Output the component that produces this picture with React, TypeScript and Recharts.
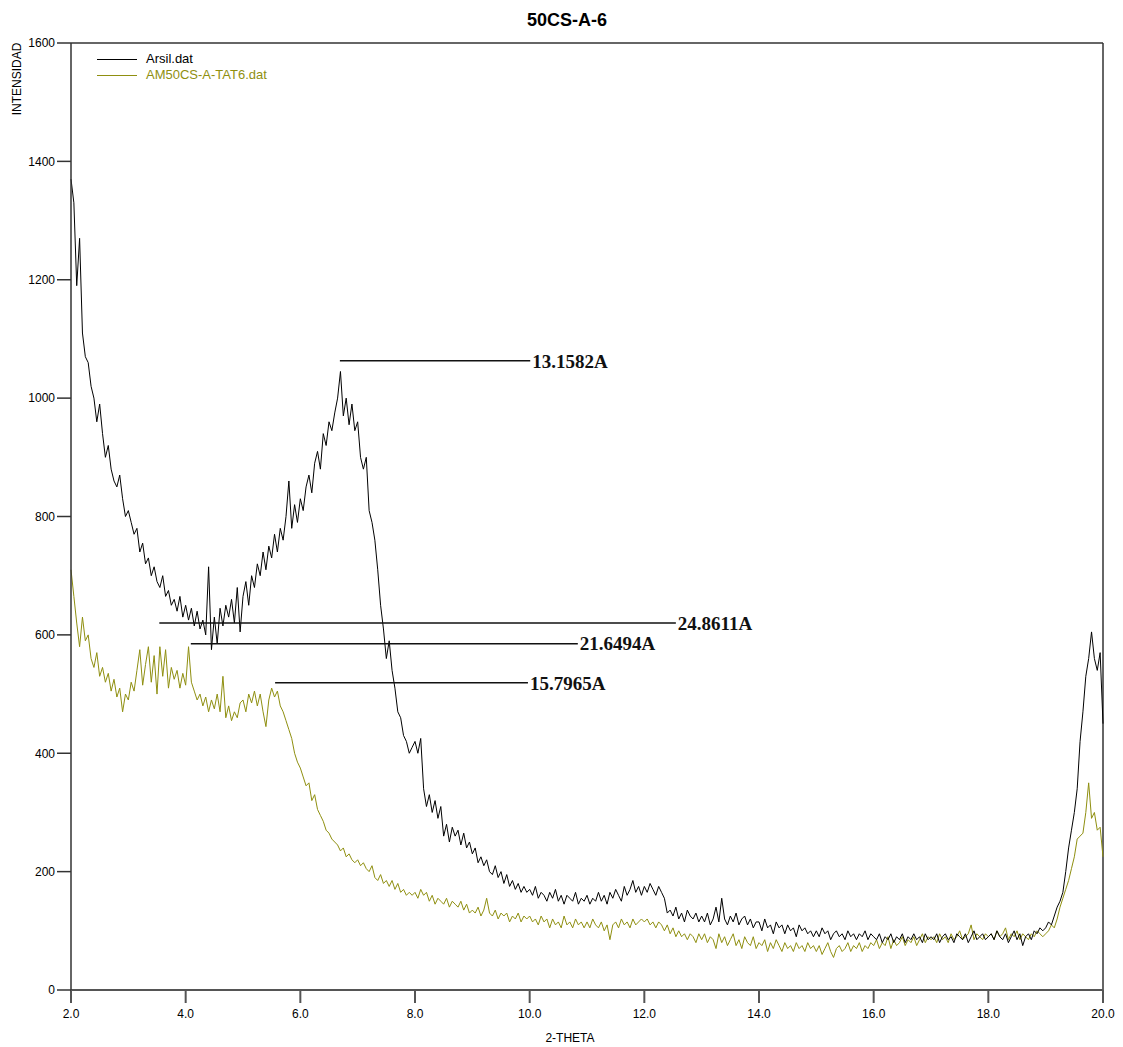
import { LineChart, Line, XAxis, YAxis, ReferenceLine } from "recharts";

// 2-theta sampling grid of the diffractometer scan
const THETA_START = 2.0;
const THETA_STEP = 0.05;

// Arsil.dat intensities, one row per degree (2.00 .. 2.95, 3.00 .. 3.95, ...)
const arsil = [
  1370, 1330, 1190, 1270, 1110, 1070, 1060, 1020, 1000, 960, 990, 940, 900, 920, 880, 860, 850, 870, 830, 800,
  810, 790, 770, 780, 740, 755, 720, 730, 700, 715, 690, 680, 700, 665, 675, 650, 660, 640, 665, 630,
  650, 625, 645, 615, 640, 610, 625, 600, 715, 575, 630, 585, 645, 615, 650, 630, 660, 620, 680, 605,
  665, 690, 650, 700, 680, 720, 700, 740, 710, 750, 730, 770, 740, 780, 760, 800, 860, 780, 820, 790,
  830, 810, 850, 870, 840, 890, 910, 880, 940, 920, 960, 945, 975, 1000, 1045, 970, 1000, 955, 990, 945,
  960, 900, 880, 900, 810, 790, 760, 710, 650, 610, 560, 590, 540, 510, 470, 460, 430, 420, 400, 410,
  420, 400, 425, 340, 310, 330, 300, 320, 290, 310, 260, 280, 250, 275, 260, 270, 245, 265, 240, 250,
  230, 240, 215, 225, 210, 220, 200, 195, 210, 190, 200, 180, 195, 175, 185, 170, 180, 165, 175, 165,
  170, 160, 175, 155, 165, 160, 150, 165, 155, 170, 150, 160, 145, 160, 155, 150, 165, 145, 155, 150,
  160, 145, 155, 150, 165, 150, 160, 145, 165, 155, 170, 160, 150, 175, 160, 170, 185, 165, 175, 160,
  175, 165, 180, 170, 160, 175, 165, 155, 130, 135, 125, 140, 120, 130, 115, 135, 125, 120, 130, 115,
  125, 115, 130, 110, 120, 140, 115, 155, 120, 110, 125, 115, 130, 110, 120, 125, 110, 120, 105, 115,
  115, 100, 120, 105, 110, 95, 115, 105, 110, 95, 110, 100, 105, 90, 110, 100, 105, 95, 100, 90,
  100, 90, 105, 95, 100, 85, 95, 100, 90, 95, 85, 100, 90, 95, 85, 95, 90, 100, 85, 95,
  90, 85, 95, 80, 90, 85, 95, 80, 90, 85, 95, 80, 90, 85, 95, 85, 90, 80, 95, 85,
  90, 85, 95, 80, 90, 95, 85, 90, 80, 95, 90, 85, 95, 80, 90, 100, 85, 90, 95, 85,
  90, 95, 85, 100, 90, 85, 95, 80, 90, 100, 85, 95, 75, 90, 95, 85, 100, 95, 105, 100,
  105, 115, 110, 125, 140, 150, 165, 200, 240, 270, 300, 340, 420, 470, 530, 560, 605, 560, 540, 570,
  450,
];

// AM50CS-A-TAT6.dat intensities, same grid
const am50 = [
  710, 665, 620, 580, 630, 590, 600, 560, 545, 570, 530, 545, 520, 535, 505, 525, 495, 510, 470, 500,
  490, 520, 505, 540, 575, 515, 550, 580, 520, 565, 500, 580, 530, 575, 510, 545, 525, 540, 510, 535,
  515, 580, 520, 505, 490, 500, 480, 495, 470, 490, 475, 500, 470, 530, 460, 480, 455, 470, 460, 485,
  490, 470, 500, 485, 505, 480, 500, 470, 445, 490, 510, 495, 505, 480, 470, 455, 440, 425, 400, 385,
  375, 360, 345, 350, 320, 330, 305, 295, 285, 270, 265, 255, 250, 245, 235, 240, 225, 230, 220, 215,
  220, 210, 215, 205, 200, 210, 190, 185, 195, 180, 185, 175, 185, 170, 180, 165, 170, 160, 165, 160,
  165, 155, 170, 160, 165, 150, 160, 145, 155, 150, 145, 155, 140, 150, 145, 140, 150, 135, 145, 130,
  135, 130, 140, 125, 135, 155, 130, 125, 135, 120, 130, 125, 130, 115, 125, 120, 130, 115, 125, 120,
  125, 115, 120, 110, 125, 115, 120, 105, 120, 110, 115, 105, 125, 110, 115, 105, 120, 110, 115, 105,
  115, 105, 120, 110, 105, 115, 100, 110, 85, 110, 115, 105, 120, 110, 115, 105, 120, 110, 115, 120,
  115, 120, 110, 115, 105, 115, 110, 100, 110, 95, 105, 90, 100, 90, 95, 85, 95, 90, 80, 95,
  85, 95, 80, 90, 85, 70, 95, 80, 90, 75, 85, 95, 75, 85, 70, 90, 80, 75, 90, 70,
  80, 75, 85, 65, 80, 70, 85, 75, 65, 80, 70, 75, 65, 80, 70, 75, 65, 80, 70, 75,
  65, 75, 60, 70, 80, 65, 55, 70, 75, 65, 70, 80, 65, 75, 70, 80, 65, 75, 70, 80,
  75, 85, 70, 80, 75, 90, 70, 85, 75, 80, 90, 75, 85, 80, 90, 75, 85, 95, 80, 90,
  85, 90, 80, 95, 85, 90, 80, 95, 85, 90, 100, 85, 90, 95, 110, 85, 95, 90, 85, 95,
  90, 95, 85, 100, 90, 95, 105, 85, 95, 90, 100, 85, 95, 90, 85, 95, 90, 100, 95, 90,
  95, 100, 110, 105, 120, 140, 155, 170, 185, 205, 225, 255, 260, 265, 300, 350, 290, 300, 270, 275,
  225,
];

const xTicks = [2, 4, 6, 8, 10, 12, 14, 16, 18, 20];
const yTicks = [0, 200, 400, 600, 800, 1000, 1200, 1400, 1600];

// d-spacing markers: label, intensity level, start and end 2-theta
const peakLabels = ["13.1582A", "24.8611A", "21.6494A", "15.7965A"];
const peakLevels = [1063, 620, 585, 519];
const peakFrom = [6.69, 3.54, 4.09, 5.56];
const peakTo = [10.01, 12.55, 10.84, 9.97];

const data = arsil.map((v, i) => ({
  theta: +(THETA_START + i * THETA_STEP).toFixed(2),
  arsil: v,
  am50: am50[i],
}));

const OLIVE = "#8f8f10";
const SANS = "'Liberation Sans', Arial, sans-serif";

export default function App() {
  return (
    <div style={{ position: "relative", width: 1110, height: 1039, fontFamily: SANS }}>
      <div
        style={{
          position: "absolute",
          left: 559,
          top: 3,
          transform: "translateX(-50%)",
          fontSize: 18,
          lineHeight: "18px",
          fontWeight: "bold",
          whiteSpace: "nowrap",
        }}
      >
        50CS-A-6
      </div>
      <div
        style={{
          position: "absolute",
          left: 9,
          top: 71,
          transform: "translate(-50%, -50%) rotate(-90deg)",
          fontSize: 12,
          whiteSpace: "nowrap",
        }}
      >
        INTENSIDAD
      </div>
      <div
        style={{
          position: "absolute",
          left: 562,
          top: 1023,
          transform: "translateX(-50%)",
          fontSize: 12,
          lineHeight: "14px",
          whiteSpace: "nowrap",
        }}
      >
        2-THETA
      </div>
      <div style={{ position: "absolute", left: 89, top: 43, fontSize: 13, lineHeight: "16px", zIndex: 2 }}>
        <div style={{ display: "flex", alignItems: "center" }}>
          <span style={{ display: "inline-block", width: 40, borderTop: "1px solid #000", marginRight: 9 }} />
          <span style={{ color: "#000" }}>Arsil.dat</span>
        </div>
        <div style={{ display: "flex", alignItems: "center" }}>
          <span style={{ display: "inline-block", width: 40, borderTop: `1px solid ${OLIVE}`, marginRight: 9 }} />
          <span style={{ color: OLIVE }}>AM50CS-A-TAT6.dat</span>
        </div>
      </div>

      <LineChart width={1110} height={1039} data={data} margin={{ top: 35, right: 15, left: 0, bottom: 17 }}>
        <XAxis
          dataKey="theta"
          type="number"
          domain={[2, 20]}
          ticks={xTicks}
          tickFormatter={(v: number) => v.toFixed(1)}
          height={40}
          tickSize={13}
          tickMargin={6}
          stroke="#555"
          strokeWidth={2}
          tick={{ fill: "#000", fontSize: 12, fontFamily: SANS }}
        />
        <YAxis
          type="number"
          domain={[0, 1600]}
          ticks={yTicks}
          width={63}
          tickSize={14}
          tickMargin={2}
          stroke="#333"
          strokeWidth={1.5}
          tick={{ fill: "#000", fontSize: 12, fontFamily: SANS }}
        />
        <ReferenceLine y={1600} stroke="#333" strokeWidth={1.5} />
        <ReferenceLine x={20} stroke="#333" strokeWidth={1.5} />
        <Line
          type="linear"
          dataKey="am50"
          stroke={OLIVE}
          strokeWidth={1}
          dot={false}
          isAnimationActive={false}
        />
        <Line
          type="linear"
          dataKey="arsil"
          stroke="#000"
          strokeWidth={1}
          dot={false}
          isAnimationActive={false}
        />
        {peakLabels.map((lab, i) => (
          <ReferenceLine
            key={lab}
            segment={[
              { x: peakFrom[i], y: peakLevels[i] },
              { x: peakTo[i], y: peakLevels[i] },
            ]}
            stroke="#111"
            strokeWidth={1.5}
            label={{
              value: lab,
              position: "right",
              offset: 2,
              fill: "#111",
              fontSize: 19,
              fontWeight: "bold",
              fontFamily: "'Liberation Serif', 'Times New Roman', serif",
            }}
          />
        ))}
      </LineChart>
    </div>
  );
}
